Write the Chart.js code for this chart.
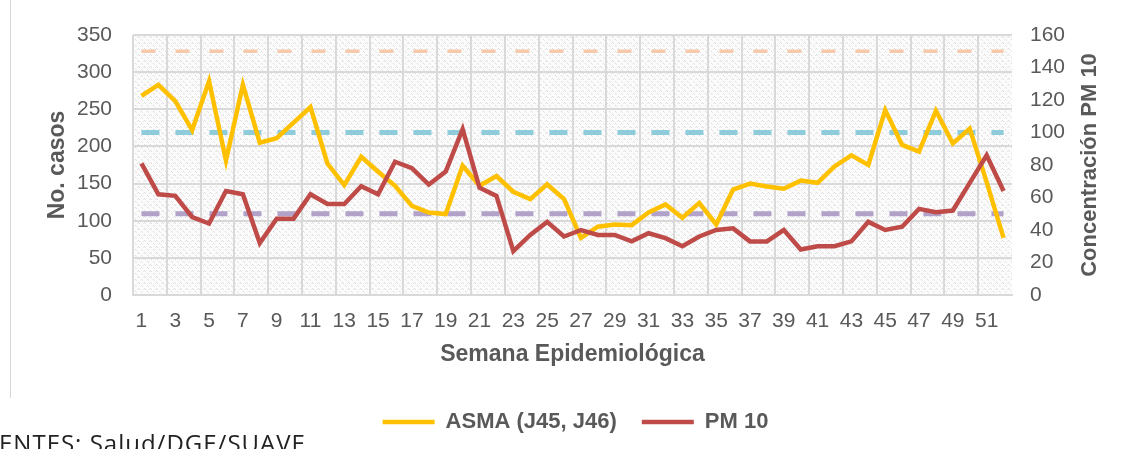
<!DOCTYPE html>
<html>
<head>
<meta charset="utf-8">
<script src="https://cdn.jsdelivr.net/npm/chart.js@4.4.1/dist/chart.umd.min.js"></script>
<style>
    body { margin: 0; width: 1121px; height: 449px; overflow: hidden; position: relative; background: #ffffff; }
    #frame { position: absolute; left: 10px; top: 0; width: 1px; height: 398px; background: #d6d6d6; }
    #source { position: absolute; left: -1px; top: 431px; font: 24px/24px "Open Sans", sans-serif; letter-spacing: 1px; color: #222222; white-space: nowrap; }
</style>
</head>
<body>
<div id="frame"></div>
<canvas id="chart" width="1121" height="447"></canvas>
<div id="source">ENTES: Salud/DGE/SUAVE</div>
<script>
// Semanas epidemiológicas
var weeks = ['1', '2', '3', '4', '5', '6', '7', '8', '9', '10', '11', '12', '13', '14', '15', '16', '17', '18', '19', '20',
    '21', '22', '23', '24', '25', '26', '27', '28', '29', '30', '31', '32', '33', '34', '35', '36', '37', '38', '39', '40',
    '41', '42', '43', '44', '45', '46', '47', '48', '49', '50', '51', '52'];

// No. casos de asma (eje izquierdo)
var asma = [268, 283, 261, 222, 288, 181, 283, 205, 211, 232, 253, 177, 148, 186, 166, 147, 120, 111, 109, 174,
    147, 160, 139, 129, 149, 129, 77, 92, 95, 94, 111, 122, 104, 124, 95, 142, 150, 146, 143, 154,
    151, 173, 188, 175, 249, 202, 193, 248, 204, 224, 152, 77];

// Concentración PM 10 (eje derecho)
var pm10 = [81, 62, 61, 48, 44, 64, 62, 32, 47, 47, 62, 56, 56, 67, 62, 82, 78, 68, 76, 102,
    66, 61, 27, 37, 45, 36, 40, 37, 37, 33, 38, 35, 30, 36, 40, 41, 33, 33, 40, 28,
    30, 30, 33, 45, 40, 42, 53, 51, 52, 69, 86, 64];

// Límites de PM 10 (líneas punteadas, eje derecho)
var limits = [150, 100, 50];

// Ticks
var leftTicks = [0, 50, 100, 150, 200, 250, 300, 350];
var rightTicks = [0, 20, 40, 60, 80, 100, 120, 140, 160];

document.addEventListener('DOMContentLoaded', function () {
    var grey = '#595959';
    var gridColor = '#d9d9d9';
    var limitStyles = [
        { color: '#f6c9aa', width: 3.5, dash: [14, 20] },
        { color: '#8ecbdb', width: 5, dash: [18, 16] },
        { color: '#b2a1c9', width: 5, dash: [18, 16] }
    ];

    // Light dotted texture behind the plot
    var tile = document.createElement('canvas');
    tile.width = 6; tile.height = 6;
    var t = tile.getContext('2d');
    t.fillStyle = '#fbfbfb';
    t.fillRect(0, 0, 6, 6);
    t.fillStyle = '#dcdcdc';
    t.fillRect(0, 0, 1, 1); t.fillRect(1, 1, 1, 1); t.fillRect(3, 3, 1, 1);
    t.fillStyle = '#e6e6e6';
    t.fillRect(4, 4, 1, 1); t.fillRect(5, 1, 1, 1);
    var pattern = document.createElement('canvas').getContext('2d').createPattern(tile, 'repeat');

    var texturePlugin = {
        id: 'texture',
        beforeDraw: function (chart) {
            var a = chart.chartArea, ctx = chart.ctx;
            ctx.save();
            ctx.fillStyle = pattern;
            ctx.fillRect(a.left, a.top, a.right - a.left, a.bottom - a.top);
            ctx.restore();
        }
    };

    // Dashed limit lines from first to last week
    var limitPlugin = {
        id: 'limits',
        beforeDatasetsDraw: function (chart) {
            var x = chart.scales.x, y1 = chart.scales.y1, ctx = chart.ctx;
            var xa = x.getPixelForValue(0), xb = x.getPixelForValue(weeks.length - 1);
            limits.forEach(function (v, i) {
                var s = limitStyles[i];
                var py = y1.getPixelForValue(v);
                ctx.save();
                ctx.strokeStyle = s.color;
                ctx.lineWidth = s.width;
                ctx.setLineDash(s.dash);
                ctx.beginPath();
                ctx.moveTo(xa, py);
                ctx.lineTo(xb, py);
                ctx.stroke();
                ctx.restore();
            });
        }
    };

    // Right axis title, reading bottom to top
    var rightTitlePlugin = {
        id: 'rightTitle',
        afterDraw: function (chart) {
            var a = chart.chartArea, ctx = chart.ctx;
            ctx.save();
            ctx.translate(chart.scales.y1.right - 31, (a.top + a.bottom) / 2);
            ctx.rotate(-Math.PI / 2);
            ctx.font = 'bold 22px "Liberation Sans", Arial, sans-serif';
            ctx.fillStyle = grey;
            ctx.textAlign = 'center';
            ctx.textBaseline = 'middle';
            ctx.fillText('Concentración PM 10', 0, 0);
            ctx.restore();
        }
    };

    var tickFont = { family: '"Liberation Sans", Arial, sans-serif', size: 21 };
    var titleFont = { family: '"Liberation Sans", Arial, sans-serif', size: 23, weight: 'bold', lineHeight: 1.2 };

    new Chart(document.getElementById('chart').getContext('2d'), {
        type: 'line',
        data: {
            labels: weeks,
            datasets: [
                {
                    label: 'ASMA (J45, J46)',
                    data: asma,
                    yAxisID: 'y',
                    borderColor: '#ffc000',
                    backgroundColor: '#ffc000',
                    borderWidth: 4.5,
                    pointRadius: 0,
                    pointStyle: 'line',
                    tension: 0,
                    order: 2
                },
                {
                    label: 'PM 10',
                    data: pm10,
                    yAxisID: 'y1',
                    borderColor: '#be4b48',
                    backgroundColor: '#be4b48',
                    borderWidth: 4.5,
                    pointRadius: 0,
                    pointStyle: 'line',
                    tension: 0,
                    order: 1
                }
            ]
        },
        options: {
            responsive: false,
            animation: false,
            layout: { padding: { top: 35, left: 30, right: 0, bottom: 4 } },
            plugins: {
                tooltip: { enabled: false },
                legend: {
                    position: 'bottom',
                    labels: {
                        usePointStyle: true,
                        pointStyle: 'line',
                        pointStyleWidth: 52,
                        padding: 25,
                        color: grey,
                        font: { family: '"Liberation Sans", Arial, sans-serif', size: 22, weight: 'bold' },
                        sort: function (a, b) { return a.datasetIndex - b.datasetIndex; }
                    }
                }
            },
            scales: {
                x: {
                    offset: true,
                    grid: {
                        offset: true,
                        drawTicks: false,
                        lineWidth: 2,
                        color: function (c) { return c.index % 2 === 0 ? gridColor : 'rgba(0,0,0,0)'; }
                    },
                    border: { color: gridColor, width: 2 },
                    ticks: {
                        autoSkip: false,
                        maxRotation: 0,
                        padding: 14,
                        color: grey,
                        font: tickFont,
                        callback: function (v, i) { return i % 2 === 0 ? weeks[i] : ''; }
                    },
                    title: {
                        display: true,
                        text: 'Semana Epidemiológica',
                        color: grey,
                        font: titleFont,
                        padding: { top: 0, bottom: 18 }
                    },
                    afterFit: function (scale) { scale.height = 91; }
                },
                y: {
                    position: 'left',
                    min: 0,
                    max: leftTicks[leftTicks.length - 1],
                    afterBuildTicks: function (scale) {
                        scale.ticks = leftTicks.map(function (v) { return { value: v }; });
                    },
                    grid: { drawTicks: false, lineWidth: 2, color: gridColor },
                    border: { display: false },
                    ticks: { padding: 21, color: grey, font: tickFont },
                    title: {
                        display: true,
                        text: 'No. casos',
                        color: grey,
                        font: titleFont,
                        padding: { top: 14, bottom: 0 }
                    },
                    afterFit: function (scale) { scale.width = 103; }
                },
                y1: {
                    position: 'right',
                    min: 0,
                    max: rightTicks[rightTicks.length - 1],
                    afterBuildTicks: function (scale) {
                        scale.ticks = rightTicks.map(function (v) { return { value: v }; });
                    },
                    grid: { display: false, drawTicks: false },
                    border: { display: false },
                    ticks: { padding: 18, color: grey, font: tickFont },
                    afterFit: function (scale) { scale.width = 109; }
                }
            }
        },
        plugins: [texturePlugin, limitPlugin, rightTitlePlugin]
    });
});
</script>
</body>
</html>
